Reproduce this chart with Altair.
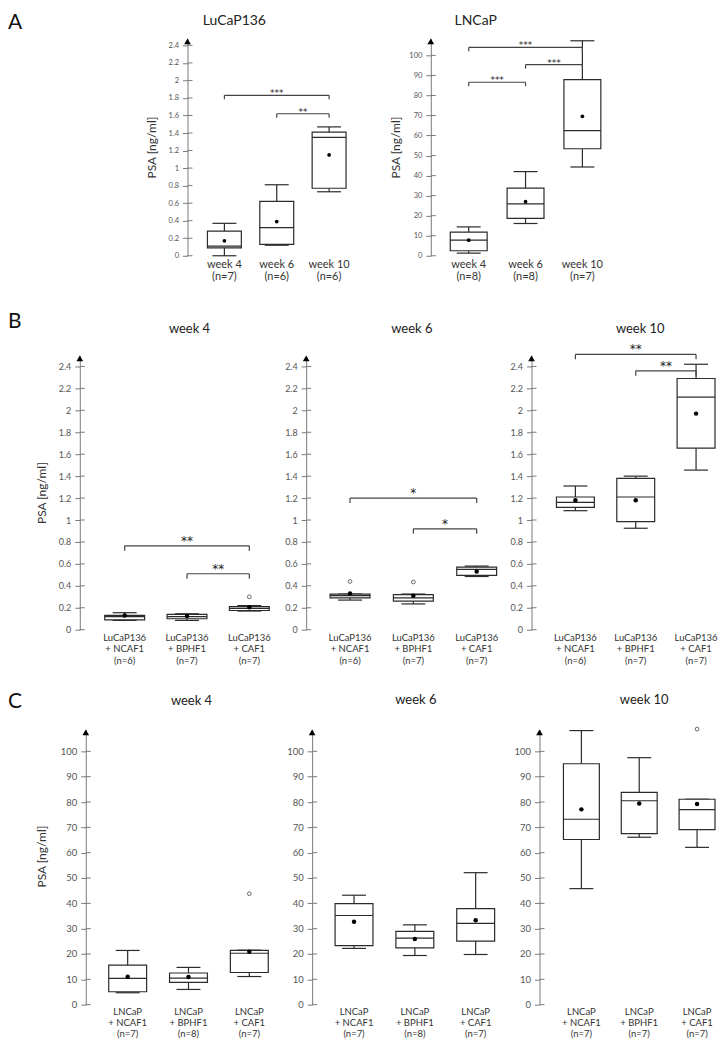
import altair as alt
import pandas as pd

FONT = "Lato"
AX = "#7a7a7a"
INK = "#2b2b2b"

# ---------------- Panel A: LuCaP136 ----------------
A1_LABELS = ["week 4\n(n=7)", "week 6\n(n=6)", "week 10\n(n=6)"]
A1_LOW = [0.0, 0.12, 0.73]
A1_Q1 = [0.09, 0.13, 0.77]
A1_MED = [0.11, 0.32, 1.35]
A1_Q3 = [0.28, 0.62, 1.41]
A1_HIGH = [0.37, 0.81, 1.47]
A1_MEAN = [0.17, 0.39, 1.15]
A1_OUT_POS = []
A1_OUT_Y = []
A1_BR_FROM = [1, 2]
A1_BR_TO = [3, 3]
A1_BR_Y = [1.83, 1.62]
A1_BR_TXT = ["***", "**"]

# ---------------- Panel A: LNCaP ----------------
A2_LABELS = ["week 4\n(n=8)", "week 6\n(n=8)", "week 10\n(n=7)"]
A2_LOW = [1.3, 16.1, 44.3]
A2_Q1 = [2.5, 18.7, 53.4]
A2_MED = [7.8, 25.9, 62.5]
A2_Q3 = [11.8, 33.8, 87.9]
A2_HIGH = [14.4, 42.0, 107.3]
A2_MEAN = [7.8, 27.0, 69.6]
A2_OUT_POS = []
A2_OUT_Y = []
A2_BR_FROM = [1, 2, 1]
A2_BR_TO = [3, 3, 2]
A2_BR_Y = [104.0, 95.4, 86.6]
A2_BR_TXT = ["***", "***", "***"]

# ---------------- Panel B (LuCaP136 + fibroblasts) ----------------
B_LABELS = ["LuCaP136\n+ NCAF1\n(n=6)", "LuCaP136\n+ BPHF1\n(n=7)", "LuCaP136\n+ CAF1\n(n=7)"]

B4_LOW = [0.085, 0.085, 0.17]
B4_Q1 = [0.09, 0.10, 0.175]
B4_MED = [0.12, 0.12, 0.195]
B4_Q3 = [0.13, 0.14, 0.21]
B4_HIGH = [0.155, 0.145, 0.22]
B4_MEAN = [0.13, 0.125, 0.205]
B4_OUT_POS = [3]
B4_OUT_Y = [0.30]
B4_BR_FROM = [1, 2]
B4_BR_TO = [3, 3]
B4_BR_Y = [0.765, 0.51]
B4_BR_TXT = ["**", "**"]

B6_LOW = [0.27, 0.235, 0.485]
B6_Q1 = [0.29, 0.26, 0.495]
B6_MED = [0.31, 0.29, 0.55]
B6_Q3 = [0.325, 0.32, 0.57]
B6_HIGH = [0.325, 0.325, 0.58]
B6_MEAN = [0.33, 0.31, 0.53]
B6_OUT_POS = [1, 2]
B6_OUT_Y = [0.44, 0.435]
B6_BR_FROM = [1, 2]
B6_BR_TO = [3, 3]
B6_BR_Y = [1.2, 0.92]
B6_BR_TXT = ["*", "*"]

B10_LOW = [1.085, 0.925, 1.455]
B10_Q1 = [1.115, 0.985, 1.655]
B10_MED = [1.16, 1.21, 2.12]
B10_Q3 = [1.21, 1.38, 2.29]
B10_HIGH = [1.31, 1.40, 2.42]
B10_MEAN = [1.18, 1.18, 1.97]
B10_OUT_POS = []
B10_OUT_Y = []
B10_BR_FROM = [1, 2]
B10_BR_TO = [3, 3]
B10_BR_Y = [2.51, 2.36]
B10_BR_TXT = ["**", "**"]

# ---------------- Panel C (LNCaP + fibroblasts) ----------------
C4_LABELS = ["LNCaP\n+ NCAF1\n(n=7)", "LNCaP\n+ BPHF1\n(n=8)", "LNCaP\n+ CAF1\n(n=7)"]
C6_LABELS = ["LNCaP\n+ NCAF1\n(n=7)", "LNCaP\n+ BPHF1\n(n=8)", "LNCaP\n+ CAF1\n(n=7)"]
C10_LABELS = ["LNCaP\n+ NCAF1\n(n=7)", "LNCaP\n+ BPHF1\n(n=7)", "LNCaP\n+ CAF1\n(n=7)"]

C4_LOW = [4.7, 6.0, 11.1]
C4_Q1 = [5.1, 8.8, 12.7]
C4_MED = [10.4, 10.5, 20.3]
C4_Q3 = [15.6, 12.5, 21.4]
C4_HIGH = [21.4, 14.7, 21.5]
C4_MEAN = [11.0, 10.9, 20.9]
C4_OUT_POS = [3]
C4_OUT_Y = [43.8]

C6_LOW = [22.2, 19.4, 19.8]
C6_Q1 = [23.3, 22.4, 25.1]
C6_MED = [35.2, 26.3, 32.1]
C6_Q3 = [39.9, 28.9, 37.9]
C6_HIGH = [43.2, 31.5, 52.1]
C6_MEAN = [32.7, 25.9, 33.3]
C6_OUT_POS = []
C6_OUT_Y = []

C10_LOW = [45.8, 66.1, 62.1]
C10_Q1 = [65.2, 67.5, 69.1]
C10_MED = [73.2, 80.5, 77.0]
C10_Q3 = [95.1, 83.8, 81.1]
C10_HIGH = [108.2, 97.5, 81.1]
C10_MEAN = [77.1, 79.4, 79.2]
C10_OUT_POS = [3]
C10_OUT_Y = [108.8]

LUCAP_TICKS = [0, 0.2, 0.4, 0.6, 0.8, 1, 1.2, 1.4, 1.6, 1.8, 2, 2.2, 2.4]
LNCAP_TICKS = [0, 10, 20, 30, 40, 50, 60, 70, 80, 90, 100]
Y_TITLE = "PSA [ng/ml]"


def panel(labels, low, q1, med, q3, high, mean, out_pos, out_y,
          br_from, br_to, br_y, br_txt, ticks, ymax, width, height, ax0, xrange,
          box_w, title, title_x, title_y, title_size, ytitle, ytitle_x, ytitle_y,
          label_size, label_lh, label_dy, tick_size, star_size, star_dy, br_tick,
          mean_size):
    pos = list(range(1, len(labels) + 1))
    box = pd.DataFrame(dict(pos=pos, label=labels, low=low, q1=q1, med=med,
                            q3=q3, high=high, mean=mean))
    xs = alt.Scale(domain=[1, len(labels)], range=[ax0 + xrange[0], ax0 + xrange[1]],
                   nice=False, zero=False)
    ys = alt.Scale(domain=[0, ymax], nice=False, zero=False)
    axis_kw = dict(values=ticks, format="~f", tickSize=5, tickColor=AX,
                   domainColor=AX, domainWidth=1, tickWidth=1, labelColor="#555",
                   labelFontSize=tick_size, labelFont=FONT, labelPadding=4,
                   grid=False, offset=-ax0)
    if ytitle:
        axis_kw.update(title=ytitle, titleFont=FONT, titleFontSize=12,
                       titleFontWeight="normal", titleColor="#333",
                       titleX=ytitle_x, titleY=ytitle_y, titleAngle=-90,
                       titleAlign="center", titleBaseline="middle")
    else:
        axis_kw.update(title=None)
    yaxis = alt.Axis(**axis_kw)

    def X(f):
        return alt.X(f, type="quantitative", scale=xs, axis=None)

    def Y(f):
        return alt.Y(f, type="quantitative", scale=ys, axis=yaxis)

    layers = []
    # inner half of the crossing ticks
    layers.append(alt.Chart(pd.DataFrame({"v": ticks})).mark_rule(
        color=AX, strokeWidth=1).encode(y=Y("v"), x=alt.value(ax0), x2=alt.value(ax0 + 5)))
    b = alt.Chart(box)
    sw = 1.2
    layers.append(b.mark_rule(color=INK, strokeWidth=sw).encode(
        x=X("pos"), y=Y("low"), y2="q1:Q"))
    layers.append(b.mark_rule(color=INK, strokeWidth=sw).encode(
        x=X("pos"), y=Y("q3"), y2="high:Q"))
    for f in ("low", "high"):
        layers.append(b.mark_rule(color=INK, strokeWidth=sw, xOffset=-12, x2Offset=12)
                      .encode(x=X("pos"), x2="pos:Q", y=Y(f)))
    layers.append(b.mark_rect(fill="white", stroke=INK, strokeWidth=sw,
                              xOffset=-box_w / 2, x2Offset=box_w / 2)
                  .encode(x=X("pos"), x2="pos:Q", y=Y("q1"), y2="q3:Q"))
    layers.append(b.mark_rule(color=INK, strokeWidth=sw, xOffset=-box_w / 2,
                              x2Offset=box_w / 2)
                  .encode(x=X("pos"), x2="pos:Q", y=Y("med")))
    layers.append(b.mark_point(filled=True, color="black", opacity=1, size=mean_size)
                  .encode(x=X("pos"), y=Y("mean")))
    if out_pos:
        od = pd.DataFrame({"pos": out_pos, "v": out_y})
        layers.append(alt.Chart(od).mark_point(filled=False, color="#666", opacity=1,
                                               size=14, strokeWidth=1)
                      .encode(x=X("pos"), y=Y("v")))
    if br_from:
        bd = pd.DataFrame({"a": br_from, "b": br_to, "y": br_y, "t": br_txt})
        bc = alt.Chart(bd)
        layers.append(bc.mark_rule(color="#444", strokeWidth=1.2)
                      .encode(x=X("a"), x2="b:Q", y=Y("y")))
        layers.append(bc.mark_rule(color="#444", strokeWidth=1.2, y2Offset=br_tick)
                      .encode(x=X("a"), y=Y("y"), y2="y:Q"))
        layers.append(bc.mark_rule(color="#444", strokeWidth=1.2, y2Offset=br_tick)
                      .encode(x=X("b"), y=Y("y"), y2="y:Q"))
        layers.append(bc.transform_calculate(mid="(datum.a + datum.b) / 2")
                      .mark_text(font="DejaVu Sans", fontSize=star_size, color="#222",
                                 baseline="middle", dy=star_dy)
                      .encode(x=X("mid"), y=Y("y"), text="t:N"))
    layers.append(b.mark_text(baseline="top", lineBreak="\n", fontSize=label_size,
                              lineHeight=label_lh, font=FONT, color="#333")
                  .encode(x=X("pos"), y=alt.value(height + label_dy), text="label:N"))
    layers.append(alt.Chart(pd.DataFrame({"t": [title]})).mark_text(
        fontSize=title_size, font=FONT, color="#222", baseline="middle")
        .encode(x=alt.value(ax0 + title_x), y=alt.value(-title_y), text="t:N"))
    layers.append(alt.Chart(pd.DataFrame({"t": [""]})).mark_point(
        shape="triangle-up", filled=True, color="black", opacity=1, size=45)
        .encode(x=alt.value(ax0), y=alt.value(3)))
    return alt.layer(*layers).properties(width=width, height=height)


def spacer(txt, width, height, dy):
    return alt.Chart(pd.DataFrame({"t": [txt]})).mark_text(
        align="left", baseline="middle", fontSize=21, font=FONT, color="#111"
    ).encode(x=alt.value(0), y=alt.value(-dy), text="t:N").properties(
        width=width, height=height)


HA, HB, HC = 218, 275, 276
W0, W1, W2, W3 = 72, 227, 226, 180

pA1 = panel(A1_LABELS, A1_LOW, A1_Q1, A1_MED, A1_Q3, A1_HIGH, A1_MEAN, A1_OUT_POS, A1_OUT_Y,
            A1_BR_FROM, A1_BR_TO, A1_BR_Y, A1_BR_TXT, LUCAP_TICKS, 2.48, W1, HA, 108,
            [37, 142], 34, "LuCaP136", 47, 17, 14, Y_TITLE, -36, HA / 2,
            11, 12, 3, 7.5, 9, -2, 4, 14)
pA2 = panel(A2_LABELS, A2_LOW, A2_Q1, A2_MED, A2_Q3, A2_HIGH, A2_MEAN, A2_OUT_POS, A2_OUT_Y,
            A2_BR_FROM, A2_BR_TO, A2_BR_Y, A2_BR_TXT, LNCAP_TICKS, 108.5, W2, HA, 125,
            [38, 152], 37, "LNCaP", 45, 17, 14, Y_TITLE, -35, HA / 2,
            11, 12, 3, 7.5, 9, -2, 4, 14)

pB4 = panel(B_LABELS, B4_LOW, B4_Q1, B4_MED, B4_Q3, B4_HIGH, B4_MEAN, B4_OUT_POS, B4_OUT_Y,
            B4_BR_FROM, B4_BR_TO, B4_BR_Y, B4_BR_TXT, LUCAP_TICKS, 2.5, W1, HB, 0,
            [45, 170], 40, "week 4", 110, 27, 13, Y_TITLE, -38, HB / 2,
            9.5, 11.5, 3, 9, 12, -5, 5, 20)
pB6 = panel(B_LABELS, B6_LOW, B6_Q1, B6_MED, B6_Q3, B6_HIGH, B6_MEAN, B6_OUT_POS, B6_OUT_Y,
            B6_BR_FROM, B6_BR_TO, B6_BR_Y, B6_BR_TXT, LUCAP_TICKS, 2.5, W2, HB, 0,
            [44, 171], 40, "week 6", 106, 27, 13, None, 0, 0,
            9.5, 11.5, 3, 9, 12, -5, 5, 20)
pB10 = panel(B_LABELS, B10_LOW, B10_Q1, B10_MED, B10_Q3, B10_HIGH, B10_MEAN, B10_OUT_POS,
             B10_OUT_Y, B10_BR_FROM, B10_BR_TO, B10_BR_Y, B10_BR_TXT, LUCAP_TICKS, 2.5, W3,
             HB, 0, [44, 165], 38, "week 10", 109, 27, 13, None, 0, 0,
             9.5, 11.5, 3, 9, 12, -5, 5, 20)

pC4 = panel(C4_LABELS, C4_LOW, C4_Q1, C4_MED, C4_Q3, C4_HIGH, C4_MEAN, C4_OUT_POS, C4_OUT_Y,
            [], [], [], [], LNCAP_TICKS, 108.66, W1, HC, 6,
            [42, 164], 38, "week 4", 106, 28, 13, Y_TITLE, -44, 127,
            9.5, 11, 2, 9.5, 12, -5, 5, 20)
pC6 = panel(C6_LABELS, C6_LOW, C6_Q1, C6_MED, C6_Q3, C6_HIGH, C6_MEAN, C6_OUT_POS, C6_OUT_Y,
            [], [], [], [], LNCAP_TICKS, 108.66, W2, HC, 6,
            [42, 164], 38, "week 6", 104, 29, 13, None, 0, 0,
            9.5, 11, 2, 9.5, 12, -5, 5, 20)
pC10 = panel(C10_LABELS, C10_LOW, C10_Q1, C10_MED, C10_Q3, C10_HIGH, C10_MEAN, C10_OUT_POS,
             C10_OUT_Y, [], [], [], [], LNCAP_TICKS, 108.66, W3, HC, 8,
             [42, 158], 36, "week 10", 105, 29, 13, None, 0, 0,
             9.5, 11, 2, 9.5, 12, -5, 5, 20)

filler = alt.Chart(pd.DataFrame({"t": [""]})).mark_text().encode(
    x=alt.value(0), y=alt.value(0), text="t:N").properties(width=W3, height=HA)

chart = alt.concat(
    spacer("A", W0, HA, 15), pA1, pA2, filler,
    spacer("B", W0, HB, 34), pB4, pB6, pB10,
    spacer("C", W0, HC, 27), pC4, pC6, pC10,
    columns=4, spacing={"row": 100, "column": 0}, bounds="flush",
).configure_view(stroke=None).properties(
    padding={"top": 3, "left": 0, "right": 0, "bottom": 0}, background="white")

chart.save("out.html", embed_options={"renderer": "svg", "actions": False})
